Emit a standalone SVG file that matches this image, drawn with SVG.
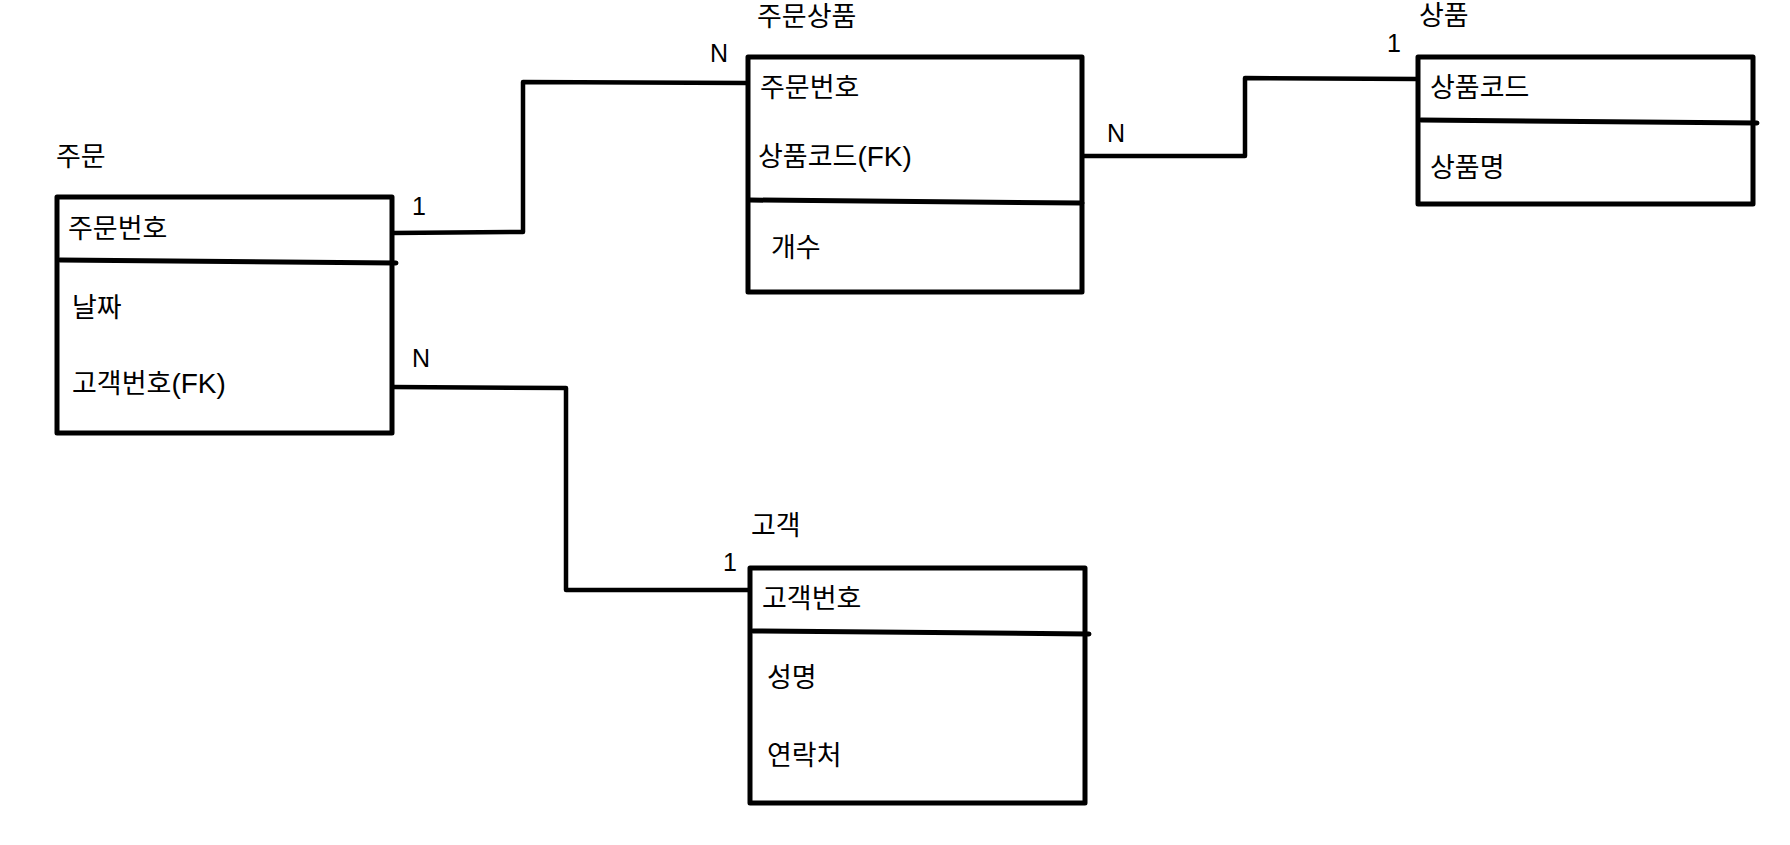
<svg xmlns="http://www.w3.org/2000/svg" width="1790" height="845" viewBox="0 0 1790 845">
<style>
.box{fill:none;stroke:#000;stroke-width:5;stroke-linejoin:round}
.div{fill:none;stroke:#000;stroke-width:5;stroke-linecap:round}
.conn{fill:none;stroke:#000;stroke-width:4.5;stroke-linejoin:round}
text{font-family:"Liberation Sans","Noto Sans CJK KR",sans-serif;font-size:27px;fill:#000}
.lat{font-size:28px}
.card{font-size:25px}
</style>
<rect width="1790" height="845" fill="#fff"/>
<g id="connectors">
<polyline class="conn" points="392,233 523,232 523,82 748,83"/>
<polyline class="conn" points="1082,156 1245,156 1245,78 1418,79"/>
<polyline class="conn" points="392,387 566,388 566,590 750,590"/>
<text class="card" x="412" y="215">1</text>
<text class="card" x="710" y="62">N</text>
<text class="card" x="1107" y="142">N</text>
<text class="card" x="1387" y="52">1</text>
<text class="card" x="412" y="367">N</text>
<text class="card" x="723" y="571">1</text>
</g>
<g id="node-order">
<text x="56" y="166">주문</text>
<rect class="box" x="57" y="197" width="335" height="236"/>
<line class="div" x1="60" y1="260" x2="396" y2="263"/>
<text x="68" y="238">주문번호</text>
<text x="72" y="317">날짜</text>
<text x="72" y="393">고객번호<tspan class="lat">(FK)</tspan></text>
</g>
<g id="node-orderitem">
<text x="757" y="26">주문상품</text>
<rect class="box" x="748" y="57" width="334" height="235"/>
<line class="div" x1="750" y1="200" x2="1082" y2="203"/>
<text x="760" y="97">주문번호</text>
<text x="758" y="166">상품코드<tspan class="lat">(FK)</tspan></text>
<text x="771" y="257">개수</text>
</g>
<g id="node-product">
<text x="1419" y="25">상품</text>
<rect class="box" x="1418" y="57" width="335" height="147"/>
<line class="div" x1="1421" y1="120" x2="1757" y2="123"/>
<text x="1430" y="97">상품코드</text>
<text x="1430" y="177">상품명</text>
</g>
<g id="node-customer">
<text x="751" y="535">고객</text>
<rect class="box" x="750" y="568" width="335" height="235"/>
<line class="div" x1="753" y1="631" x2="1089" y2="634"/>
<text x="762" y="608">고객번호</text>
<text x="767" y="687">성명</text>
<text x="767" y="765">연락처</text>
</g>
</svg>
